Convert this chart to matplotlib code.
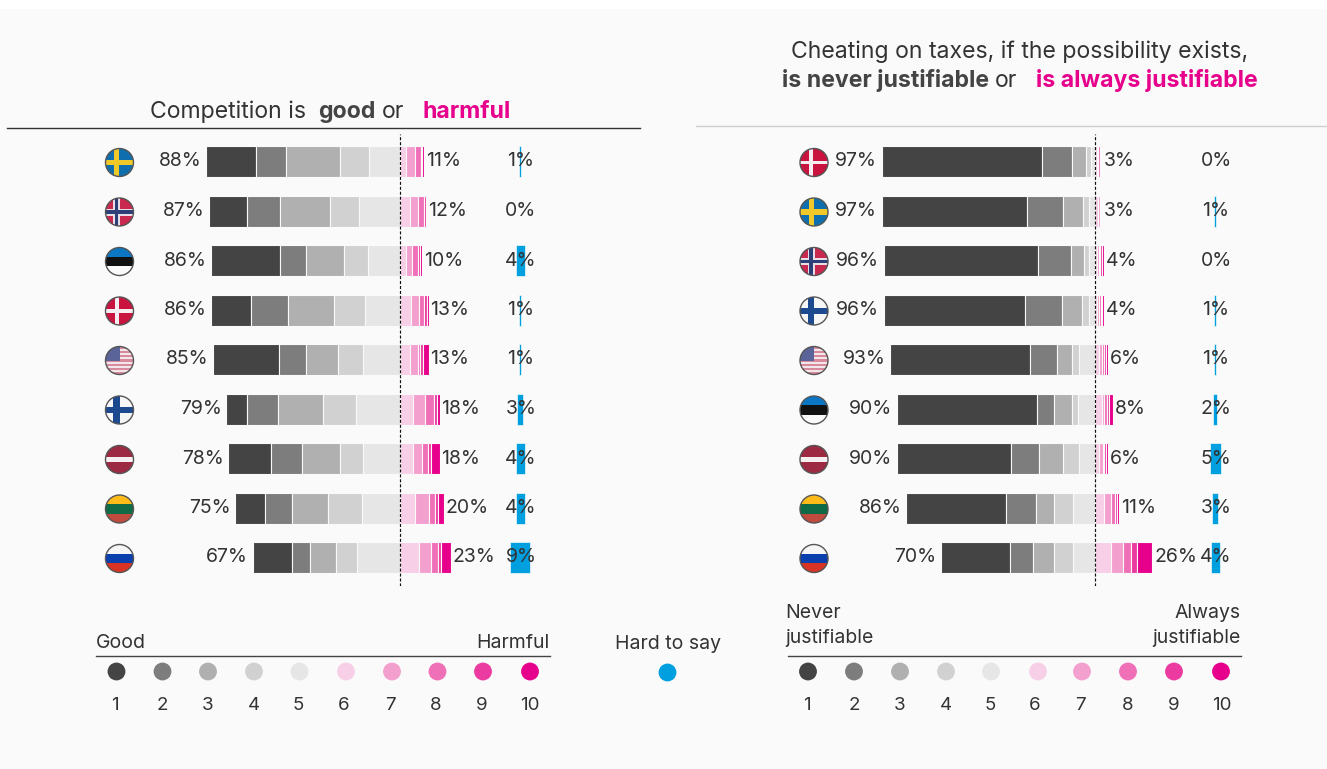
import matplotlib
matplotlib.use("Agg")
import matplotlib.pyplot as plt
from matplotlib.patches import Rectangle, Circle

W, H = 1327, 769
FONT = "Inter"
INK = "#333333"
BG = "#fafafa"
plt.rcParams["font.family"] = [FONT, "DejaVu Sans"]

scale_colors = ["#444444", "#7d7d7d", "#b0b0b0", "#d1d1d1", "#e6e6e6",
                "#f7cfe6", "#f3a0cf", "#f070b8", "#ec3ba0", "#e6008b"]
hard_color = "#00a0e0"

# Competition is good (1) or harmful (10)
comp_countries = ["SE", "NO", "EE", "DK", "US", "FI", "LV", "LT", "RU"]
comp_good = [[22.6, 13.6, 24.5, 13.2, 14.1],
             [17.6, 14.8, 22.6, 13.2, 18.8],
             [31.3, 12.0, 17.4, 10.8, 14.5],
             [18.4, 16.9, 20.8, 13.8, 16.1],
             [30.2, 12.1, 14.6, 11.5, 16.6],
             [9.6, 13.9, 20.6, 14.9, 20.0],
             [19.3, 14.2, 17.0, 10.8, 16.7],
             [13.8, 12.0, 16.3, 15.7, 17.2],
             [18.1, 8.2, 11.5, 9.8, 19.4]]
comp_harm = [[2.8, 4.2, 2.4, 0.6, 1.0],
             [4.4, 3.6, 3.1, 0.8, 0.1],
             [2.5, 3.0, 2.9, 0.5, 1.1],
             [5.0, 3.7, 2.2, 1.3, 0.8],
             [4.4, 3.6, 1.2, 1.4, 2.4],
             [5.8, 5.5, 4.3, 1.2, 1.2],
             [5.8, 4.2, 2.8, 1.5, 3.7],
             [6.8, 6.3, 2.9, 1.4, 2.6],
             [8.8, 5.4, 3.0, 1.6, 4.2]]
comp_hard = [1, 0, 4, 1, 1, 3, 4, 4, 9]
comp_good_labels = [88, 87, 86, 86, 85, 79, 78, 75, 67]
comp_harm_labels = [11, 12, 10, 13, 13, 18, 18, 20, 23]

# Cheating on taxes is never (1) or always (10) justifiable
tax_countries = ["DK", "SE", "NO", "FI", "US", "EE", "LV", "LT", "RU"]
tax_good = [[73.1, 13.6, 6.1, 2.4, 1.8],
            [65.9, 16.4, 9.4, 2.7, 2.6],
            [70.3, 14.7, 6.1, 2.3, 2.6],
            [64.2, 16.9, 8.8, 3.2, 2.9],
            [63.3, 12.2, 7.1, 3.2, 7.2],
            [63.8, 7.7, 8.2, 2.7, 7.6],
            [51.6, 13.1, 10.7, 7.4, 7.2],
            [45.7, 13.6, 8.2, 8.3, 10.2],
            [31.3, 10.4, 9.8, 8.3, 10.2]]
tax_harm = [[0.8, 0.7, 0.6, 0.5, 0.4],
            [1.5, 0.9, 0.3, 0.2, 0.1],
            [0.8, 0.8, 0.7, 0.7, 1.0],
            [1.0, 0.8, 0.8, 0.7, 0.7],
            [1.6, 1.6, 1.1, 0.9, 0.8],
            [3.0, 1.2, 1.1, 1.2, 1.5],
            [1.7, 1.9, 0.6, 0.6, 1.2],
            [4.1, 3.2, 1.8, 0.8, 1.1],
            [7.1, 5.4, 3.8, 2.7, 7.0]]
tax_hard = [0, 1, 0, 1, 1, 2, 5, 3, 4]
tax_good_labels = [97, 97, 96, 96, 93, 90, 90, 86, 70]
tax_harm_labels = [3, 3, 4, 4, 6, 8, 6, 11, 26]

scale_numbers = ["1", "2", "3", "4", "5", "6", "7", "8", "9", "10"]

PX_PER_PCT = 2.2
ROW_STEP = 49.5
FIRST_ROW = 161.5
HARD_CENTER = 54.6      # percent-axis position of the "hard to say" column
LABEL_PT = 14
EDGE_PX = 1.1

fig = plt.figure(figsize=(W / 100, H / 100), dpi=100, facecolor="white")
page = fig.add_axes([0, 0, 1, 1])
page.set_xlim(0, W)
page.set_ylim(H, 0)
page.axis("off")
page.add_patch(Rectangle((0, 9), W, H - 9, color=BG, lw=0))


def draw_flag(cx, cy, code, r=14):
    clip = Circle((cx, cy), r, transform=page.transData)

    def band(x, y, w, h, color):
        p = Rectangle((cx + x * r, cy + y * r), w * r, h * r, color=color, lw=0, zorder=3)
        page.add_patch(p)
        p.set_clip_path(clip)

    def cross(base, arm, vx, thick, inner=None, thin=0):
        band(-1, -1, 2, 2, base)
        band(vx - thick / 2, -1, thick, 2, arm)
        band(-1, -thick / 2, 2, thick, arm)
        if inner:
            band(vx - thin / 2, -1, thin, 2, inner)
            band(-1, -thin / 2, 2, thin, inner)

    def tricolor(top, mid, bottom):
        band(-1, -1, 2, 2 / 3, top)
        band(-1, -1 / 3, 2, 2 / 3, mid)
        band(-1, 1 / 3, 2, 2 / 3, bottom)

    if code == "SE":
        cross("#0f6fae", "#f0c928", -0.2, 0.36)
    elif code == "NO":
        cross("#c9284f", "#e8dfe6", -0.2, 0.5, "#2d3f78", 0.25)
    elif code == "DK":
        cross("#c8143f", "#f4eef0", -0.2, 0.26)
    elif code == "FI":
        cross("#f6f6f6", "#1d4a8f", -0.2, 0.46)
    elif code == "EE":
        tricolor("#0b76c4", "#111111", "#fafafa")
    elif code == "LT":
        tricolor("#fdbb1a", "#0f6b45", "#bf4a3e")
    elif code == "RU":
        tricolor("#f5f5f5", "#0a3fae", "#d93324")
    elif code == "LV":
        band(-1, -1, 2, 2, "#9c2a42")
        band(-1, -0.2, 2, 0.4, "#f4f0f0")
    elif code == "US":
        band(-1, -1, 2, 2, "#f1e6ea")
        for k in range(7):
            band(-1, -1 + k * 2 / 6.5, 2, 1 / 6.5, "#d88a9c")
        band(-1, -1, 1.0, 1.0, "#5b6498")
    page.add_patch(Circle((cx, cy), r, fill=False, ec="#555555", lw=1.0, zorder=4))


def draw_panel(x_left, x_right, zero_px, flag_x, countries, good, harm, hard,
               good_labels, harm_labels):
    y_top, y_bottom = 134, 586
    ax = fig.add_axes([x_left / W, 1 - y_bottom / H, (x_right - x_left) / W, (y_bottom - y_top) / H])
    ax.set_xlim((x_left - zero_px) / PX_PER_PCT, (x_right - zero_px) / PX_PER_PCT)
    ax.set_ylim((y_bottom - FIRST_ROW) / ROW_STEP, (y_top - FIRST_ROW) / ROW_STEP)
    ax.axis("off")
    ax.patch.set_alpha(0)
    bar_h = 31 / ROW_STEP
    lw = EDGE_PX * 0.72
    for i, code in enumerate(countries):
        left = -sum(good[i])
        for k, v in enumerate(good[i]):
            ax.barh(i, v, left=left, height=bar_h, color=scale_colors[k], edgecolor=BG, linewidth=lw)
            left += v
        right = 0
        for k, v in enumerate(harm[i]):
            ax.barh(i, v, left=right, height=bar_h, color=scale_colors[k + 5], edgecolor=BG, linewidth=lw)
            right += v
        if hard[i] > 0:
            ax.barh(i, hard[i], left=HARD_CENTER - hard[i] / 2, height=bar_h,
                    color=hard_color, edgecolor=BG, linewidth=lw * 0.6)
        ax.annotate(f"{good_labels[i]}%", (-sum(good[i]), i), xytext=(-3.2, 0),
                    textcoords="offset points", ha="right", va="center",
                    fontsize=LABEL_PT, color=INK)
        ax.annotate(f"{harm_labels[i]}%", (sum(harm[i]), i), xytext=(1.4, 0),
                    textcoords="offset points", ha="left", va="center",
                    fontsize=LABEL_PT, color=INK)
        ax.text(HARD_CENTER + 0.4, i, f"{hard[i]}%", ha="center", va="center",
                fontsize=LABEL_PT, color=INK, zorder=6)
        draw_flag(flag_x, FIRST_ROW + 1 + ROW_STEP * i, code)
    ax.axvline(0, color="#111111", lw=0.85, dashes=(2.6, 1.6), zorder=5)
    return ax


draw_panel(90, 545, 400, 119.5, comp_countries, comp_good, comp_harm, comp_hard,
           comp_good_labels, comp_harm_labels)
draw_panel(785, 1250, 1095, 814, tax_countries, tax_good, tax_harm, tax_hard,
           tax_good_labels, tax_harm_labels)


def rich_line(xc, y, parts, size):
    """Centre a line made of differently styled runs at xc."""
    renderer = fig.canvas.get_renderer()
    items = []
    total = 0
    for s, weight, color in parts:
        t = page.text(0, y, s, fontsize=size, fontweight=weight, color=color,
                      va="baseline", ha="left")
        w = t.get_window_extent(renderer).width
        lead = 0
        if s != s.rstrip() or s != s.lstrip():
            lead = size * 0.36 * (len(s) - len(s.strip()))
        items.append((t, total))
        total += w + lead
    for t, off in items:
        s = t.get_text()
        extra = size * 0.36 if s.startswith(" ") else 0
        t.set_x(xc - total / 2 + off + extra)
        t.set_text(s.strip())


MAGENTA = "#e6008b"
rich_line(330.5, 118, [("Competition is ", "normal", INK), ("good", "bold", "#444444"),
                       (" or ", "normal", INK), ("harmful", "bold", MAGENTA)], 16.6)
rich_line(1020, 58, [("Cheating on taxes, if the possibility exists,", "normal", INK)], 16.6)
rich_line(1020, 87, [("is never justifiable", "bold", "#444444"), (" or ", "normal", INK),
                     ("is always justifiable", "bold", MAGENTA)], 16.6)

page.plot([7, 640], [128, 128], color="#333333", lw=1.0)
page.plot([696, W], [125.5, 125.5], color="#cfcfcf", lw=1.0)


def draw_legend(xs, num_xs, x0, x1):
    page.plot([x0, x1], [656, 656], color="#444444", lw=1.0)
    page.scatter(xs, [671.5] * len(xs), s=165, c=scale_colors, linewidths=0, zorder=3)
    for x, n in zip(num_xs, scale_numbers):
        page.text(x, 705, n, fontsize=LABEL_PT - 0.5, color=INK, ha="center", va="center")


draw_legend([116.5, 162.5, 208, 254, 299.5, 346, 392, 437.5, 483, 530],
            [115, 162, 208, 254, 298, 344, 390, 436, 482, 530], 96, 550)
draw_legend([808, 854, 900, 946, 991, 1038, 1082, 1128, 1174, 1221],
            [807, 854, 900, 946, 990, 1035, 1080, 1128, 1174, 1222], 788, 1241)

small = dict(fontsize=LABEL_PT, color=INK, va="center")
page.text(96, 643, "Good", ha="left", **small)
page.text(549, 643, "Harmful", ha="right", **small)
page.text(668, 644, "Hard to say", ha="center", **small)
page.scatter([667], [672], s=165, c=hard_color, linewidths=0, zorder=3)
page.text(785, 613, "Never", ha="left", **small)
page.text(785, 638, "justifiable", ha="left", **small)
page.text(1241, 613, "Always", ha="right", **small)
page.text(1241, 638, "justifiable", ha="right", **small)

fig.savefig("out.png", dpi=100, facecolor=fig.get_facecolor())
